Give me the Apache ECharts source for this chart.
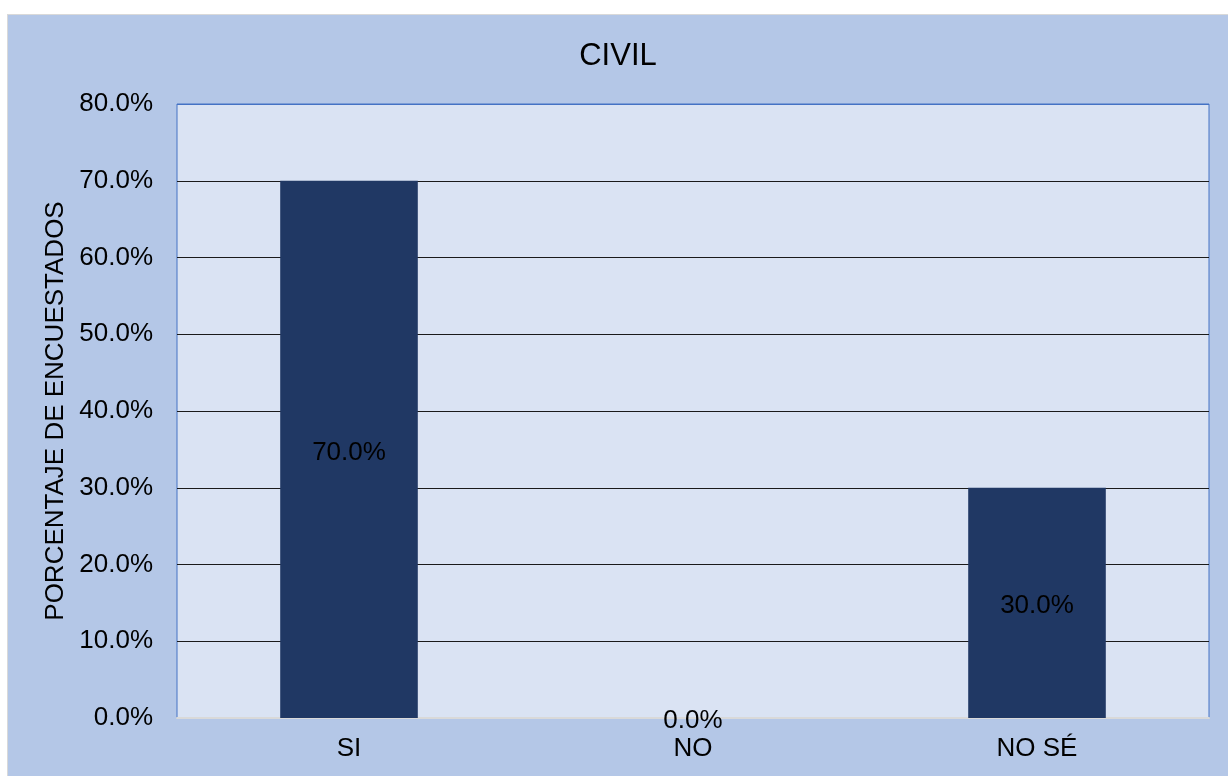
<!DOCTYPE html>
<html>
<head>
<meta charset="utf-8">
<script src="https://cdn.jsdelivr.net/npm/echarts@6/dist/echarts.min.js"></script>
<style>
  html, body { margin: 0; padding: 0; background: #fff; }
  #chart {
    position: absolute; left: 7px; top: 14px;
    width: 1220px; height: 761px;
    border: 1px solid #D9D9D9; border-right: none; border-bottom: none;
  }
</style>
</head>
<body>
<div id="chart"></div>
<script>
// datos
var categorias = ['SI', 'NO', 'NO SÉ'];
var porcentajes = [0.70, 0.0, 0.30];
var titulo = 'CIVIL';
var nombreEjeY = 'PORCENTAJE DE ENCUESTADOS';

var font = '"Liberation Sans", Arial, sans-serif';
var chart = echarts.init(document.getElementById('chart'));

// lineas de division: la de arriba (80%) queda azul como el borde
var coloresLineas = ['#1a1a1a', '#1a1a1a', '#1a1a1a', '#1a1a1a', '#1a1a1a',
  '#1a1a1a', '#1a1a1a', '#1a1a1a', '#4472C4'];

chart.setOption({
  backgroundColor: '#B4C7E7',
  animation: false,
  title: {
    text: titulo,
    left: 'center',
    top: 21,
    textStyle: { color: '#000', fontSize: 31, fontWeight: 'normal', fontFamily: font }
  },
  grid: {
    left: 169, right: 19, top: 89, bottom: 58,
    show: true,
    backgroundColor: '#DAE3F3',
    borderColor: '#4472C4',
    borderWidth: 1
  },
  xAxis: {
    type: 'category',
    data: categorias,
    axisLine: { lineStyle: { color: '#D9D9D9', width: 2 } },
    axisTick: { show: false },
    axisLabel: { color: '#000', fontSize: 26, fontFamily: font, margin: 18 }
  },
  yAxis: {
    type: 'value',
    min: 0, max: 0.8, interval: 0.1,
    name: nombreEjeY,
    nameLocation: 'middle',
    nameGap: 101,
    nameTextStyle: { color: '#000', fontSize: 26, fontFamily: font },
    axisLine: { show: false },
    axisTick: { show: false },
    splitLine: { lineStyle: { color: coloresLineas, width: 1 } },
    axisLabel: {
      color: '#000', fontSize: 26, fontFamily: font, margin: 24,
      formatter: function (v) { return (v * 100).toFixed(1) + '%'; }
    }
  },
  series: [{
    type: 'bar',
    data: porcentajes,
    barWidth: '40%',
    itemStyle: { color: '#203864' },
    label: {
      show: true,
      position: 'inside',
      offset: [0, 3],
      color: '#000',
      fontSize: 26,
      fontFamily: font,
      formatter: function (p) { return (p.value * 100).toFixed(1) + '%'; }
    }
  }]
});
</script>
</body>
</html>
